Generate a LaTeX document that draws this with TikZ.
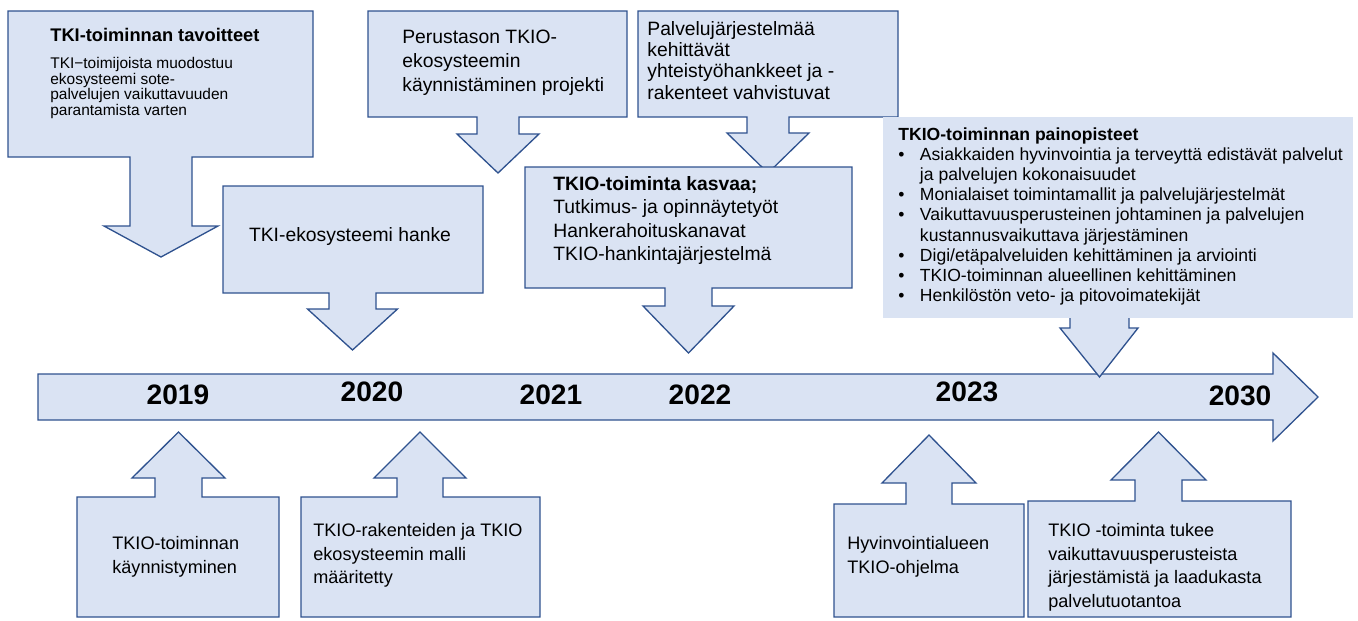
\documentclass[tikz,border=0pt]{standalone}
\usepackage{fontspec}
\setmainfont{Liberation Sans}
\usetikzlibrary{positioning}
\definecolor{calloutfill}{RGB}{218,227,243}
\definecolor{calloutline}{RGB}{47,82,143}

% box with an arrow pointing down: left, top, right, bottom, centre x, shaft half, head half, head y, tip y
\newcommand{\downcallout}[9]{%
  \filldraw[callout] (#1,#2) -- (#3,#2) -- (#3,#4) -- (#5+#6,#4) -- (#5+#6,#8) -- (#5+#7,#8)
    -- (#5,#9) -- (#5-#7,#8) -- (#5-#6,#8) -- (#5-#6,#4) -- (#1,#4) -- cycle;}
% box with an arrow pointing up
\newcommand{\upcallout}[9]{%
  \filldraw[callout] (#1,#4) -- (#1,#2) -- (#5-#6,#2) -- (#5-#6,#8) -- (#5-#7,#8) -- (#5,#9)
    -- (#5+#7,#8) -- (#5+#6,#8) -- (#5+#6,#2) -- (#3,#2) -- (#3,#4) -- cycle;}

\begin{document}
\begin{tikzpicture}[x=0.02cm, y=-0.02cm,
    callout/.style={fill=calloutfill, draw=calloutline, line width=0.75pt, line join=miter},
    boxtext/.style={anchor=north west, align=left, inner sep=0pt, font=\fontsize{11}{13.6}\selectfont},
    lowtext/.style={anchor=north west, align=left, inner sep=0pt, font=\fontsize{10.3}{13.5}\selectfont},
    yearlabel/.style={inner sep=0pt, font=\fontsize{16}{19}\selectfont\bfseries}]
  \useasboundingbox (0,0) rectangle (1358,620);

  % timeline
  \filldraw[callout] (38,374) -- (1273,374) -- (1273,353) -- (1318,397) -- (1273,441) -- (1273,420) -- (38,420) -- cycle;
  \node[yearlabel] (y2019) at (178,395) {2019};
  \node[yearlabel] (y2020) at (372,392) {2020};
  \node[yearlabel] (y2021) at (551,395) {2021};
  \node[yearlabel] (y2022) at (700,395) {2022};
  \node[yearlabel] (y2023) at (967,392) {2023};
  \node[yearlabel] (y2030) at (1240,396) {2030};

  % callouts above the timeline
  \downcallout{8}{11}{313}{157}{161}{31}{57}{226}{257}
  \downcallout{223}{186}{483}{293}{352.5}{23.5}{45}{309}{350}
  \downcallout{368}{11}{627}{117}{498}{21}{41}{134}{173}
  \downcallout{638}{11}{898}{117}{768}{21}{41}{133}{173}
  \downcallout{525}{167}{852}{288}{688.5}{23.5}{45.5}{306}{353}
  \fill[calloutfill] (883,117) rectangle (1353,318);
  \filldraw[callout] (1070,318) -- (1070,328) -- (1060,328) -- (1099.5,377) -- (1138,328) -- (1129,328) -- (1129,318);

  \node[boxtext, font=\fontsize{8.8}{8.9}\selectfont] (goals) at (50,28)
    {{\fontsize{10.4}{12}\selectfont\bfseries TKI-toiminnan tavoitteet}\\[6.4pt]
     TKI−toimijoista muodostuu\\ ekosysteemi sote-\\ palvelujen vaikuttavuuden\\ parantamista varten};
  \node[inner sep=0pt, font=\fontsize{11}{13.6}\selectfont] (ecoproject) at (350,236) {TKI-ekosysteemi hanke};
  \node[boxtext] (basicproject) at (402,30)
    {Perustason TKIO-\\ ekosysteemin\\ käynnistäminen projekti};
  \node[boxtext, font=\fontsize{11}{12.1}\selectfont] (cooperation) at (647,21)
    {Palvelujärjestelmää\\ kehittävät\\ yhteistyöhankkeet ja -\\ rakenteet vahvistuvat};
  \node[boxtext, font=\fontsize{11}{13.4}\selectfont] (growth) at (553,176)
    {\textbf{TKIO-toiminta kasvaa;}\\ Tutkimus- ja opinnäytetyöt\\ Hankerahoituskanavat\\ TKIO-hankintajärjestelmä};
  \node[boxtext, font=\fontsize{10}{11.5}\selectfont] (focus) at (898,127)
    {\textbf{TKIO-toiminnan painopisteet}\\
     \makebox[12.3pt][l]{\textbullet}Asiakkaiden hyvinvointia ja terveyttä edistävät palvelut\\
     \hspace*{12.3pt}ja palvelujen kokonaisuudet\\
     \makebox[12.3pt][l]{\textbullet}Monialaiset toimintamallit ja palvelujärjestelmät\\
     \makebox[12.3pt][l]{\textbullet}Vaikuttavuusperusteinen johtaminen ja palvelujen\\
     \hspace*{12.3pt}kustannusvaikuttava järjestäminen\\
     \makebox[12.3pt][l]{\textbullet}Digi/etäpalveluiden kehittäminen ja arviointi\\
     \makebox[12.3pt][l]{\textbullet}TKIO-toiminnan alueellinen kehittäminen\\
     \makebox[12.3pt][l]{\textbullet}Henkilöstön veto- ja pitovoimatekijät};

  % callouts below the timeline
  \upcallout{77}{497}{279}{617}{178.5}{23.5}{46.5}{478}{432}
  \upcallout{301}{497}{540}{617}{420}{23}{46}{478}{432}
  \upcallout{834}{504}{1024}{617}{929}{23}{47}{483}{435}
  \upcallout{1028}{501}{1291}{617}{1158.5}{23.5}{47.5}{480}{432}

  \node[lowtext] (launch) at (112,536) {TKIO-toiminnan\\ käynnistyminen};
  \node[lowtext] (model) at (313,523) {TKIO-rakenteiden ja TKIO\\ ekosysteemin malli\\ määritetty};
  \node[lowtext] (programme) at (847,536) {Hyvinvointialueen\\ TKIO-ohjelma};
  \node[lowtext] (support) at (1048,523) {TKIO -toiminta tukee\\ vaikuttavuusperusteista\\ järjestämistä ja laadukasta\\ palvelutuotantoa};
\end{tikzpicture}
\end{document}
